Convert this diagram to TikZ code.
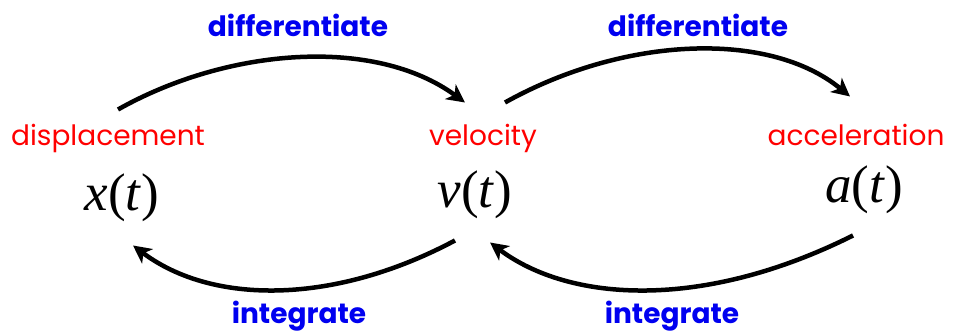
\documentclass[tikz,border=0pt]{standalone}
\usepackage{fontspec}
\setmainfont{Poppins}
\newfontfamily\funcfont{Liberation Serif}
\usetikzlibrary{arrows.meta}

\begin{document}
\begin{tikzpicture}[x=1pt, y=1pt,
    quantity/.style={inner sep=0pt, anchor=base, text=quantityColour, font=\fontsize{28}{30}\selectfont},
    operation/.style={inner sep=0pt, anchor=base, text=operationColour, font=\bfseries\fontsize{28}{30}\selectfont},
    func/.style={inner sep=0pt, anchor=base, font=\funcfont\fontsize{53}{56}\selectfont},
    flow/.style={line width=4.5pt, -{Stealth[length=18pt,width=18pt,inset=5pt]}}]
    % Define colours
    \definecolor{quantityColour}{HTML}{FF0000}
    \definecolor{operationColour}{HTML}{0000F0}

    % Fix the canvas
    \useasboundingbox (0,0) rectangle (955,333);

    % Quantities
    \node[quantity] (disp) at (108,188) {displacement};
    \node[quantity] (vel) at (483,188) {velocity};
    \node[quantity] (acc) at (856,188) {acceleration};

    % Functions of time
    \node[func] (xt) at (122,123) {\textit{x}(\textit{t})};
    \node[func] (vt) at (475,126) {\textit{v}(\textit{t})};
    \node[func] (at) at (864,131) {\textit{a}(\textit{t})};

    % Differentiate arrows
    \draw[flow] ([xshift=10pt,yshift=14pt]disp.north) .. controls +(110,62) and +(-90,66) .. ([xshift=-18pt,yshift=21pt]vel.north);
    \draw[flow] ([xshift=22pt,yshift=21pt]vel.north) .. controls +(120,67) and +(-80,66) .. ([xshift=-6pt,yshift=27pt]acc.north);

    % Integrate arrows
    \draw[flow] ([xshift=-20pt,yshift=-22pt]vt.south) .. controls +(-120,-64) and +(80,-60) .. ([xshift=11pt,yshift=-24pt]xt.south);
    \draw[flow] ([xshift=-11pt,yshift=-22pt]at.south) .. controls +(-150,-75) and +(80,-60) .. ([xshift=15pt,yshift=-24pt]vt.south);

    % Operation labels
    \node[operation] (diffA) at (298,297) {differentiate};
    \node[operation] (diffB) at (698,297) {differentiate};
    \node[operation] (intA) at (299,10) {integrate};
    \node[operation] (intB) at (672,10) {integrate};

\end{tikzpicture}
\end{document}
